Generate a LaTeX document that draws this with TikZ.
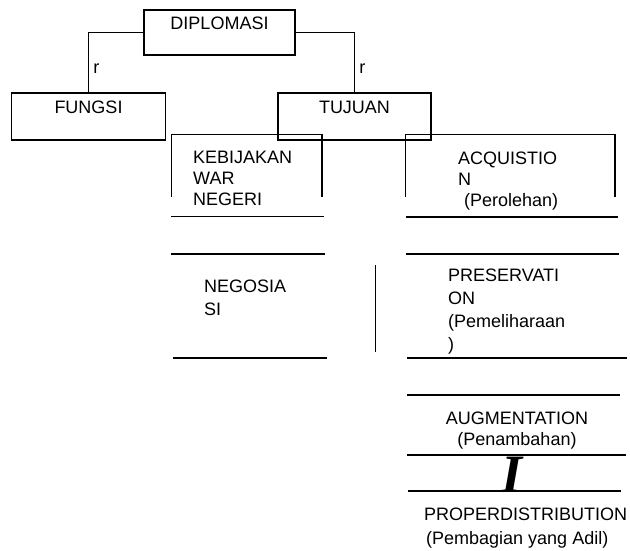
\documentclass[tikz,border=0pt]{standalone}
\usepackage{fontspec}
\setmainfont{Liberation Sans}
\newfontfamily\serifbi{Liberation Serif}

\begin{document}
\begin{tikzpicture}[
				x=1pt, y=-1pt,
				font=\fontsize{18}{21}\selectfont,
				box/.style={draw, line width=1.5pt, minimum width=153pt, minimum height=47pt,
					inner sep=0pt, text height=13pt, text depth=19.5pt},
				txt/.style={inner sep=0pt, anchor=north west, align=left},
				lab/.style={inner sep=1pt},
				thin/.style={line width=0.7pt},
				heavy/.style={line width=1.5pt}
			]
			\useasboundingbox (0,0) rectangle (630,551);
			
			\node [box, minimum width=151pt, minimum height=45pt] (dip) at (219.5,32.5) {DIPLOMASI};
			\node [box, minimum width=154pt] (fungsi) at (88.5,116.5) {FUNGSI};
			\node [box] (tujuan) at (354.5,116.5) {TUJUAN};
			
			\draw [heavy] (dip.west) -| node [lab, pos=.8, right=3pt] {r} (fungsi.north);
			\draw [heavy] (dip.east) -| node [lab, pos=.8, right=3pt] {r} (tujuan.north);
			
			% left column
			\draw [thin] (171,197) -- (171,134.5) -- (322,134.5);
			\draw [heavy] (322,134.5) -- (322,197);
			\draw [thin] (171,216.5) -- (324,216.5);
			\draw [heavy] (171,254) -- (325,254);
			\draw [heavy] (173,358) -- (327,358);
			\draw [heavy] (375.5,265) -- (375.5,352);
			\node [txt] (kebijakan) at (193,151) {KEBIJAKAN\\WAR\\NEGERI};
			\node [txt, font=\fontsize{18}{23}\selectfont] (negosiasi) at (204,280) {NEGOSIA\\SI};
			
			% right column
			\draw [thin] (405,197) -- (405,134.5) -- (615,134.5);
			\draw [heavy] (615,134.5) -- (615,197);
			\draw [heavy] (406,217) -- (618,217);
			\draw [heavy] (406,254) -- (619,254);
			\draw [heavy] (407,358) -- (627,358);
			\draw [heavy] (407,395) -- (620,395);
			\draw [heavy] (407,455) -- (626,455);
			\draw [heavy] (408,491) -- (621,491);
			\node [txt] (acquisition) at (458,151.5) {ACQUISTIO\\N\\\hspace*{6pt}(Perolehan)};
			\node [txt, font=\fontsize{18}{23}\selectfont] (preservation) at (448,268.5) {PRESERVATI\\ON\\(Pemeliharaan\\)};
			\node [txt, anchor=north, align=center] (augmentation) at (517,412) {AUGMENTATION\\(Penambahan)};
			\node [inner sep=0pt, font=\serifbi\bfseries\itshape\fontsize{54}{54}\selectfont] (gap) at (512,475) {I};
			\node [txt, font=\fontsize{18}{23.5}\selectfont] (distribution) at (424,508) {PROPERDISTRIBUTION\\\hspace*{2pt}(Pembagian yang Adil)};
		\end{tikzpicture}
\end{document}
